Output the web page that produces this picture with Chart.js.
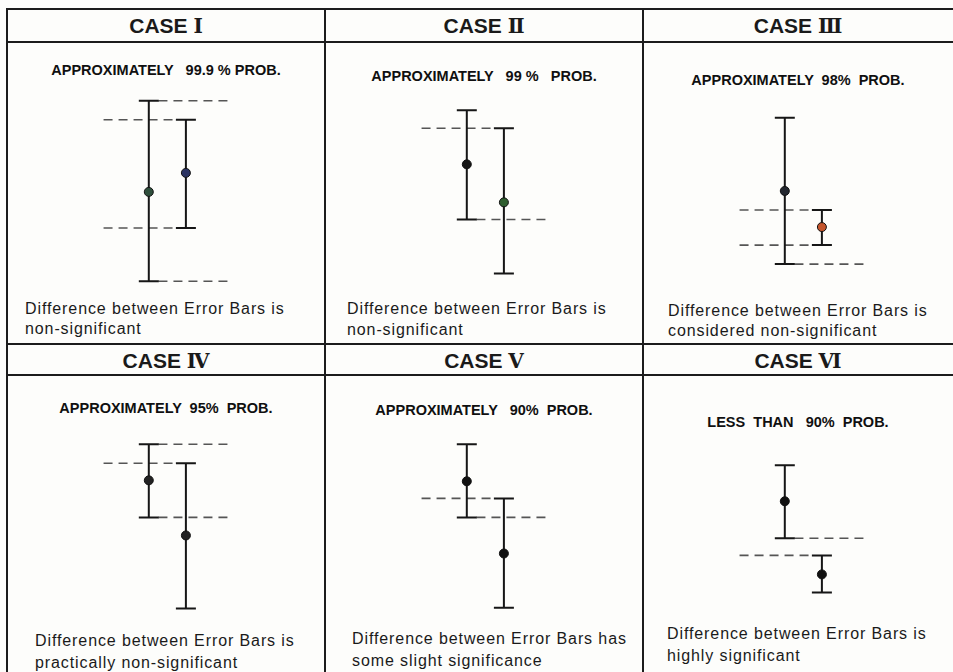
<!DOCTYPE html>
<html>
<head>
<meta charset="utf-8">
<script src="https://cdn.jsdelivr.net/npm/chart.js@4.4.1/dist/chart.umd.min.js"></script>
<style>
    body { margin: 0; background: #fff; }
    #sheet { position: relative; width: 953px; height: 672px; overflow: hidden; background: #fdfdfb; }
    .rule { position: absolute; background: #1c1c1c; }
    .head { position: absolute; text-align: center; font: bold 21px "Liberation Sans", Arial, sans-serif; color: #1a1a1a; line-height: 24px; }
    .head .num { font-family: "DejaVu Serif", "Liberation Serif", serif; font-weight: bold; font-size: 20px; }
    .prob { position: absolute; text-align: center; font: bold 14.5px "Liberation Sans", Arial, sans-serif; color: #101010; white-space: pre; line-height: 16px; }
    .note { position: absolute; font: 16px "Liberation Sans", Arial, sans-serif; color: #1a1a1a; letter-spacing: 0.9px; line-height: 21px; white-space: pre; }
    canvas { position: absolute; }
</style>
</head>
<body>
<div id="sheet"></div>
<script>
// panel texts
const caseNames = ['CASE', 'CASE', 'CASE', 'CASE', 'CASE', 'CASE'];
const caseNumerals = ['Ⅰ', 'Ⅱ', 'Ⅲ', 'Ⅳ', 'Ⅴ', 'Ⅵ'];
const probLabels = [
    'APPROXIMATELY   99.9 % PROB.',
    'APPROXIMATELY   99 %   PROB.',
    'APPROXIMATELY  98%  PROB.',
    'APPROXIMATELY  95%  PROB.',
    'APPROXIMATELY   90%  PROB.',
    'LESS  THAN   90%  PROB.'
];
const noteLines = [
    ['Difference between Error Bars is', 'non-significant'],
    ['Difference between Error Bars is', 'non-significant'],
    ['Difference between Error Bars is', 'considered non-significant'],
    ['Difference between Error Bars is', 'practically non-significant'],
    ['Difference between Error Bars has', 'some slight significance'],
    ['Difference between Error Bars is', 'highly significant']
];

// the two bars of every case
const barX = [1, 2];
const means = [[5.4, 6.4], [6.85, 4.85], [5.45, 3.55], [7.85, 4.95], [7.8, 4.0], [6.75, 2.9]];
const lowLimits = [[0.7, 3.5], [3.95, 1.1], [1.6, 2.6], [5.9, 1.1], [5.9, 1.15], [4.8, 1.95]];
const highLimits = [[10.2, 9.2], [9.7, 8.75], [9.3, 4.45], [9.75, 8.75], [9.75, 6.9], [8.65, 3.9]];

// which bar limits get a dashed guide line: [bar, 'hi' | 'lo']
const guideRefs = [
    [[0, 'hi'], [1, 'hi'], [1, 'lo'], [0, 'lo']],
    [[1, 'hi'], [0, 'lo']],
    [[1, 'hi'], [1, 'lo'], [0, 'lo']],
    [[0, 'hi'], [1, 'hi'], [0, 'lo']],
    [[1, 'hi'], [0, 'lo']],
    [[0, 'lo'], [1, 'hi']]
];

// styles / layout
const pointColors = [
    ['#2f4f3c', '#2c3463'],
    ['#151515', '#2f5e2f'],
    ['#23272f', '#c4552c'],
    ['#222', '#222'],
    ['#111', '#111'],
    ['#111', '#111']
];
const colLeft = [7, 325, 643];
const colWidth = [318, 318, 310];
const rowTop = [9, 344];
const probY = [61, 67, 71, 64, 66, 78];
const noteY = [[299, 319], [299, 320], [301, 321], [296, 318], [294, 316], [289, 311]];
const noteX = [18, 22, 25, 28, 27, 24];

const sheet = document.getElementById('sheet');

function addRule(x, y, w, h){
    const d = document.createElement('div');
    d.className = 'rule';
    d.style.cssText = `left:${x}px;top:${y}px;width:${w}px;height:${h}px`;
    sheet.appendChild(d);
}

// grid lines
addRule(6, 8, 947, 2);
addRule(6, 41, 947, 2);
addRule(6, 343, 947, 2);
addRule(6, 374, 947, 2);
for(const x of colLeft){
    addRule(x - 1, 8, 2, 664);
}

const capPx = 10;
const errorBars = {
    id: 'errorBars',
    beforeDatasetDraw(chart, args){
        const ds = chart.data.datasets[args.index];
        if(!ds.isMeans) return;
        const ctx = chart.ctx;
        const xs = chart.scales.x, ys = chart.scales.y;
        ctx.save();
        ctx.strokeStyle = '#161616';
        ctx.lineWidth = 2;
        ds.data.forEach((p, i) => {
            const px = xs.getPixelForValue(p.x);
            const top = ys.getPixelForValue(ds.hi[i]);
            const bot = ys.getPixelForValue(ds.lo[i]);
            ctx.beginPath();
            ctx.moveTo(px, top);
            ctx.lineTo(px, bot);
            ctx.moveTo(px - capPx, top);
            ctx.lineTo(px + capPx, top);
            ctx.moveTo(px - capPx, bot);
            ctx.lineTo(px + capPx, bot);
            ctx.stroke();
        });
        ctx.restore();
    }
};

for(let k = 0; k < 6; k++){
    const col = k % 3, row = Math.floor(k / 3);
    const left = colLeft[col], top = rowTop[row], w = colWidth[col];

    const head = document.createElement('div');
    head.className = 'head';
    head.style.cssText = `left:${left}px;width:${w}px;top:${top + 5}px`;
    head.innerHTML = `${caseNames[k]} <span class="num">${caseNumerals[k]}</span>`;
    sheet.appendChild(head);

    const prob = document.createElement('div');
    prob.className = 'prob';
    prob.style.cssText = `left:${left}px;width:${w}px;top:${top + probY[k] - 8}px`;
    prob.textContent = probLabels[k];
    sheet.appendChild(prob);

    noteLines[k].forEach((t, j) => {
        const n = document.createElement('div');
        n.className = 'note';
        n.style.cssText = `left:${left + noteX[k]}px;top:${top + noteY[k][j] - 10}px`;
        n.textContent = t;
        sheet.appendChild(n);
    });

    const cv = document.createElement('canvas');
    cv.width = 300;
    cv.height = 220;
    cv.style.cssText = `left:${left}px;top:${top + 71}px;width:300px;height:220px`;
    sheet.appendChild(cv);

    // dashed guides: left-bar limits run to the right, right-bar limits to the left
    const guides = guideRefs[k].map(([b, side]) => {
        const y = side === 'hi' ? highLimits[k][b] : lowLimits[k][b];
        const from = b === 0 ? barX[0] + 0.26 : barX[0] - 1.22;
        const to = b === 0 ? barX[1] + 1.2 : barX[1] - 0.26;
        return {
            type: 'line',
            data: [{x: from, y: y}, {x: to, y: y}],
            borderColor: '#555',
            borderWidth: 1.6,
            borderDash: [9, 6],
            pointRadius: 0,
            fill: false
        };
    });

    new Chart(cv, {
        type: 'scatter',
        data: {
            datasets: [
                {
                    isMeans: true,
                    data: barX.map((x, i) => ({x: x, y: means[k][i]})),
                    lo: lowLimits[k],
                    hi: highLimits[k],
                    pointRadius: 4.5,
                    pointBackgroundColor: pointColors[k],
                    pointBorderColor: '#111',
                    pointBorderWidth: 1
                },
                ...guides
            ]
        },
        options: {
            responsive: false,
            animation: false,
            events: [],
            layout: { padding: 0 },
            scales: {
                x: { type: 'linear', display: false, min: -2.675, max: 5.117 },
                y: { type: 'linear', display: false, min: 0, max: 11 }
            },
            plugins: {
                legend: { display: false },
                tooltip: { enabled: false }
            }
        },
        plugins: [errorBars]
    });
}
</script>
</body>
</html>
